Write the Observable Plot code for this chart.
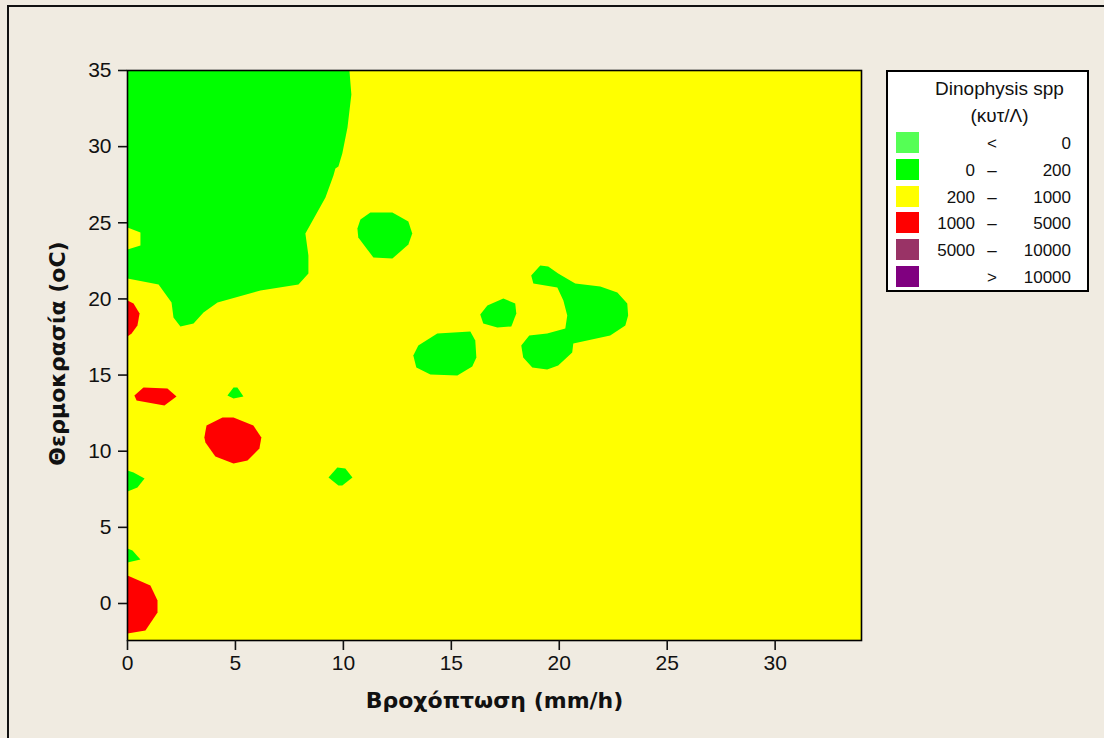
<!DOCTYPE html>
<html>
<head>
<meta charset="utf-8">
<script src="https://cdn.jsdelivr.net/npm/d3@7"></script>
<script src="https://cdn.jsdelivr.net/npm/@observablehq/plot@0.6"></script>
<style>
  html, body { margin: 0; padding: 0; background: #F0EBE1; }
  #wrap { position: relative; width: 1104px; height: 738px; overflow: hidden; background: #F0EBE1; }
  #outer { position: absolute; left: 7px; top: 5px; width: 1200px; height: 800px; border-left: 2px solid #111; border-top: 2px solid #111; }
  #chart { position: absolute; left: 0; top: 0; }
  #legend { position: absolute; left: 886px; top: 70px; width: 199px; height: 218px; border: 2px solid #000; background: #fff;
            font-family: "Liberation Sans", Arial, sans-serif; color: #111; }
  #legend .t { position: absolute; left: 12px; width: 199px; text-align: center; font-size: 19px; }
  #legend .sw { position: absolute; left: 8px; width: 23px; height: 21px; }
  #legend .a, #legend .m, #legend .b { position: absolute; font-size: 17px; line-height: 21px; }
  #legend .a { right: 112px; text-align: right; }
  #legend .m { left: 98px; width: 12px; text-align: center; }
  #legend .b { right: 16px; text-align: right; }
</style>
</head>
<body>
<div id="wrap">
  <div id="outer"></div>
  <div id="chart"></div>
  <div id="legend"></div>
</div>
<script>
// ---- axis ticks ----
const xTicks = [0, 5, 10, 15, 20, 25, 30];
const yTicks = [0, 5, 10, 15, 20, 25, 30, 35];
const xDomain = [0, 34];
const yDomain = [-2.43, 35];

// ---- legend ----
const legendTitle = ["Dinophysis spp", "(κυτ/Λ)"];
const legendLow  = ["", "0", "200", "1000", "5000", ""];
const legendSep  = ["<", "–", "–", "–", "–", ">"];
const legendHigh = ["0", "200", "1000", "5000", "10000", "10000"];
const legendColors = ["#55FF55", "#00FF00", "#FFFF00", "#FF0000", "#993366", "#800080"];

// ---- contour regions (Rainfall mm/h, Temperature oC) ----
// 0 - 200 band (green)
const greenMain = [[0,35],[10.28,35],[10.37,33.42],[10.19,31.25],[9.95,29.55],[9.77,28.69],[9.63,28.56],[9.54,28.10],
  [9.17,26.66],[8.24,24.29],[8.38,22.85],[8.38,21.67],[7.92,20.95],[6.16,20.55],[4.17,19.76],[3.52,19.11],[3.06,18.38],
  [2.45,18.19],[2.13,18.78],[2.04,19.76],[1.44,20.95],[0,21.34],[0,23.24],[0.60,23.51],[0.60,24.36],[0,24.69]];
const greenB1 = [[11.25,25.67],[12.27,25.67],[13.01,25.08],[13.19,24.29],[13.01,23.57],[12.27,22.65],[11.39,22.72],
  [10.69,24.03],[10.65,24.62],[10.79,25.21]];
const greenB2 = [[14.35,17.73],[15.88,17.86],[16.11,17.27],[16.16,16.15],[15.97,15.56],[15.28,14.97],[14.03,15.04],
  [13.38,15.50],[13.24,16.28],[13.47,16.94]];
const greenB3 = [[17.41,20.03],[17.96,19.70],[18.01,19.04],[17.78,18.19],[17.13,18.12],[16.48,18.38],[16.34,18.98],[16.67,19.57]];
const greenB4 = [[19.12,22.19],[19.49,22.13],[19.95,21.67],[20.74,21.01],[21.90,20.81],[22.69,20.42],[23.15,19.70],
  [23.19,18.91],[23.06,18.25],[22.36,17.60],[20.65,17.07],[20.60,16.48],[19.95,15.63],[19.44,15.36],[18.75,15.50],
  [18.33,16.15],[18.24,16.94],[18.61,17.60],[19.44,17.73],[20.28,18.06],[20.37,18.91],[20.19,19.89],[19.91,20.75],
  [18.80,21.01],[18.70,21.54]];
const greenB5 = [[4.91,14.18],[5.09,14.18],[5.37,13.59],[4.91,13.46],[4.63,13.66]];
const greenB6 = [[9.72,8.93],[10.09,8.86],[10.42,8.27],[9.95,7.75],[9.77,7.75],[9.31,8.27]];
const greenB7 = [[0,8.73],[0.28,8.60],[0.79,8.21],[0.46,7.62],[0,7.35]];
const greenB8 = [[0,3.61],[0.23,3.48],[0.60,2.89],[0,2.69]];

// 1000 - 5000 band (red)
const redB1 = [[0,19.89],[0.28,19.70],[0.56,19.04],[0.46,18.25],[0.19,17.73],[0,17.53]];
const redB2 = [[0.74,14.18],[1.85,14.12],[2.27,13.59],[1.71,13.00],[0.42,13.33],[0.32,13.66]];
const redB3 = [[4.40,12.21],[4.91,12.21],[5.83,11.69],[6.20,10.90],[6.11,10.18],[5.56,9.39],[4.91,9.19],
  [4.07,9.65],[3.61,10.57],[3.56,10.90],[3.66,11.69]];
const redB4 = [[0,1.84],[1.06,1.18],[1.39,0.20],[1.39,-0.59],[0.83,-1.77],[0,-1.97]];

const greenRegions = [greenMain, greenB1, greenB2, greenB3, greenB4, greenB5, greenB6, greenB7, greenB8];
const redRegions = [redB1, redB2, redB3, redB4];

function toRows(regions, prefix) {
  const rows = [];
  regions.forEach((poly, i) => {
    const closed = poly.concat([poly[0]]);
    closed.forEach(([x, y]) => rows.push({x, y, id: prefix + i}));
  });
  return rows;
}
const greenRows = toRows(greenRegions, "g");
const redRows = toRows(redRegions, "r");

const boldFont = "'DejaVu Sans', sans-serif";

const chart = Plot.plot({
  width: 1104,
  height: 738,
  marginLeft: 127,
  marginRight: 243,
  marginTop: 70,
  marginBottom: 98,
  style: { background: "transparent", fontFamily: "'Liberation Sans', Arial, sans-serif", fontSize: "21px", color: "#111" },
  x: { domain: xDomain },
  y: { domain: yDomain },
  marks: [
    Plot.frame({ fill: legendColors[2] }),
    Plot.line(greenRows, { x: "x", y: "y", z: "id", fill: legendColors[1], stroke: "none" }),
    Plot.line(redRows, { x: "x", y: "y", z: "id", fill: legendColors[3], stroke: "none" }),
    Plot.frame({ stroke: "#000", strokeWidth: 1.6 }),
    Plot.axisX({ ticks: xTicks, tickSize: 10, tickPadding: 5, label: null, strokeWidth: 1.6, fontSize: 21 }),
    Plot.axisY({ ticks: yTicks, tickSize: 9, tickPadding: 7, label: null, strokeWidth: 1.6, fontSize: 21 }),
    Plot.text(["Βροχόπτωση (mm/h)"], { frameAnchor: "bottom", text: d => d, dy: 60, textAnchor: "middle", lineAnchor: "middle",
      fontWeight: "bold", fontSize: 22, fontFamily: boldFont }),
    Plot.text(["Θερμοκρασία (oC)"], { frameAnchor: "left", text: d => d, dx: -70, dy: -2, rotate: -90, textAnchor: "middle", lineAnchor: "middle",
      fontWeight: "bold", fontSize: 22, fontFamily: boldFont })
  ]
});
document.getElementById("chart").appendChild(chart);

// legend
const lg = document.getElementById("legend");
function el(cls, text, css) {
  const d = document.createElement("div");
  d.className = cls;
  if (text !== null) d.textContent = text;
  Object.assign(d.style, css || {});
  lg.appendChild(d);
  return d;
}
el("t", legendTitle[0], { top: "6px" });
el("t", legendTitle[1], { top: "33px" });
legendColors.forEach((c, i) => {
  const top = 60 + i * 26.8;
  el("sw", null, { top: top + "px", background: c });
  el("a", legendLow[i], { top: (top + 1) + "px" });
  el("m", legendSep[i], { top: (top + 1) + "px" });
  el("b", legendHigh[i], { top: (top + 1) + "px" });
});
</script>
</body>
</html>
